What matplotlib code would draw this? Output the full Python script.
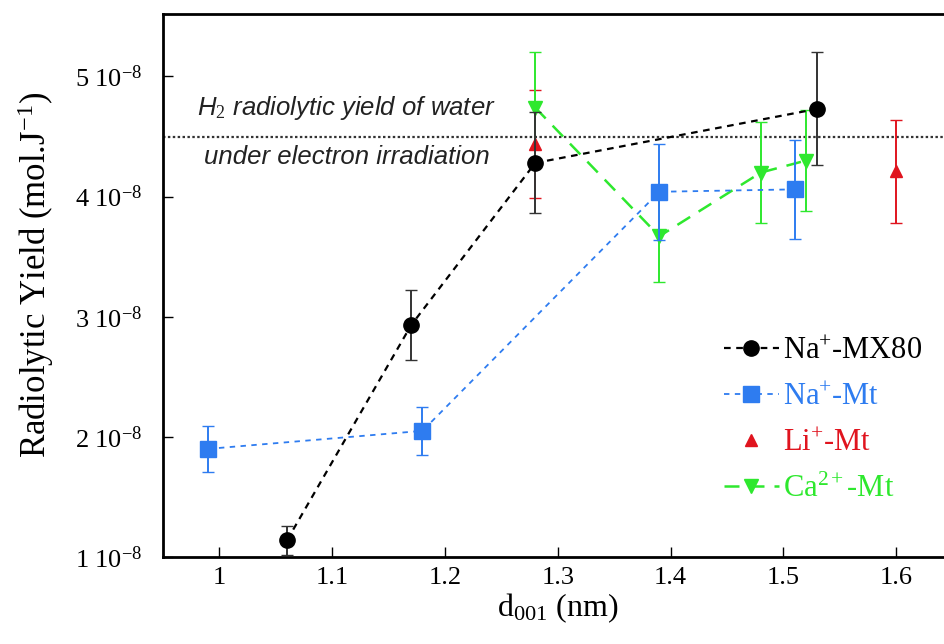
import matplotlib
matplotlib.use("Agg")
import matplotlib.pyplot as plt
from matplotlib.lines import Line2D
from matplotlib.ticker import FixedLocator, FuncFormatter

# values in units of 1e-8 mol/J
mx80_d = [1.06, 1.17, 1.28, 1.53]
mx80_y = [1.14, 2.93, 4.28, 4.73]
mx80_err = [0.12, 0.29, 0.42, 0.47]

namt_d = [0.99, 1.18, 1.39, 1.51]
namt_y = [1.90, 2.05, 4.04, 4.06]
namt_err = [0.19, 0.20, 0.40, 0.41]

limt_d = [1.28, 1.60]
limt_y = [4.44, 4.21]
limt_err = [0.45, 0.43]

camt_d = [1.28, 1.39, 1.48, 1.52]
camt_y = [4.74, 3.67, 4.20, 4.30]
camt_err = [0.46, 0.38, 0.42, 0.42]

water_yield = 4.5
xticks = [1.0, 1.1, 1.2, 1.3, 1.4, 1.5, 1.6]
yticks = [1, 2, 3, 4, 5]
labels = [r"Na$^{+}$-MX80", r"Na$^{+}$-Mt", r"Li$^{+}$-Mt", r"Ca$^{2+}$-Mt"]

BLACK = "#000000"
BLUE = "#2e7cf0"
RED = "#e0141e"
GREEN = "#2ee82e"

serif = ["Liberation Serif", "DejaVu Serif"]
plt.rcParams["mathtext.fontset"] = "custom"
plt.rcParams["mathtext.rm"] = "Liberation Serif"
plt.rcParams["mathtext.it"] = "Liberation Serif:italic"

fig = plt.figure(figsize=(9.44, 6.44), dpi=100)
ax = fig.add_axes([0.1727, 0.1351, 0.8364, 0.8432])

ax.axhline(water_yield, color="#333333", lw=1.6, ls=(0, (1.1, 1.1)), zorder=1)

styles = [
    dict(color=BLACK, marker="o", ms=11, ls=(0, (3, 2.5)), lw=1.6),
    dict(color=BLUE, marker="s", ms=11, ls=(0, (3, 3)), lw=1.3),
    dict(color=RED, marker="^", ms=9, ls="none"),
    dict(color=GREEN, marker="v", ms=10, ls=(0, (6, 4)), lw=1.8),
]
series = [(mx80_d, mx80_y, mx80_err), (namt_d, namt_y, namt_err),
          (limt_d, limt_y, limt_err), (camt_d, camt_y, camt_err)]
ecolors = ["#333333", BLUE, RED, GREEN]
zords = [5, 4, 3, 3]

for (d, y, e), st, ec, z in zip(series, styles, ecolors, zords):
    ax.errorbar(d, y, yerr=e, capsize=4, elinewidth=1.4, ecolor=ec, zorder=z, **st)

ax.set_xlim(0.95, 1.65)
ax.set_ylim(1.0, 5.52)
ax.xaxis.set_major_locator(FixedLocator(xticks))
ax.yaxis.set_major_locator(FixedLocator(yticks))
ax.xaxis.set_major_formatter(FuncFormatter(lambda v, p: f"{v:g}"))
ax.yaxis.set_major_formatter(FuncFormatter(lambda v, p: rf"{v:g} 10$^{{-8}}$"))
ax.tick_params(direction="in", length=7, width=1, labelsize=19)
ax.tick_params(axis="y", pad=15)
ax.tick_params(axis="x", pad=7)
for lab in ax.get_xticklabels() + ax.get_yticklabels():
    lab.set_family(serif)
for sp in ax.spines.values():
    sp.set_linewidth(2)

ax.set_xlabel(r"d$_{001}$ (nm)", fontsize=23, family=serif, labelpad=2)
ax.set_ylabel(r"Radiolytic Yield (mol.J$^{-1}$)", fontsize=25, family=serif)
ax.yaxis.set_label_coords(-0.135, 0.52)

ax.text(1.1126, 4.74, r"H$_2$ radiolytic yield of water", fontsize=18.5, style="italic",
        family="Liberation Sans", color="#222222", ha="center", va="center")
ax.text(1.1126, 4.33, "under electron irradiation", fontsize=18.5, style="italic",
        family="Liberation Sans", color="#222222", ha="center", va="center")

handles = [Line2D([], [], **st) for st in styles]
leg = ax.legend(handles, labels, loc="upper left", bbox_to_anchor=(0.71, 0.405),
                frameon=False, prop={"family": serif, "size": 22}, handlelength=1.8,
                handletextpad=0.15, labelspacing=0.55, borderpad=0, borderaxespad=0)
for txt, c in zip(leg.get_texts(), [BLACK, BLUE, RED, GREEN]):
    txt.set_color(c)

fig.savefig("out.png", dpi=100)
